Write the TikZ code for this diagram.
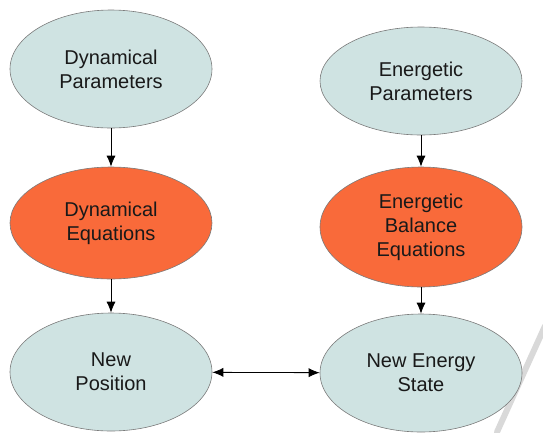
\documentclass[tikz,border=0pt]{standalone}
\usepackage{fontspec}
\setmainfont{Liberation Sans}
\usetikzlibrary{shapes.geometric,arrows.meta}
\definecolor{paleblue}{HTML}{CFE3E2}
\definecolor{orangefill}{HTML}{F96A3A}
\definecolor{edgegray}{HTML}{7A7A7A}
\tikzset{
  ell/.style={ellipse, draw=edgegray, line width=0.6pt, inner sep=0pt,
    minimum width=202pt, align=center,
    font=\fontsize{20}{24}\selectfont, text=black!90},
  paramnode/.style={ell, fill=paleblue},
  eqnode/.style={ell, fill=orangefill},
  tip/.tip={Latex[length=11pt,width=9pt]},
  conn/.style={line width=0.8pt, -tip},
}
\begin{document}
\begin{tikzpicture}[x=1pt,y=-1pt]
\useasboundingbox (0,0) rectangle (543,432);
\draw[line width=6pt, black!15, line cap=round] (545,326) -- (497,432);
\node[paramnode, minimum height=118pt] (dp) at (111,69) {Dynamical\\Parameters};
\node[paramnode, minimum height=108pt] (ep) at (421,81) {Energetic\\Parameters};
\node[eqnode, minimum height=112pt] (de) at (111,223) {Dynamical\\Equations};
\node[eqnode, minimum height=120pt] (ee) at (421,227) {Energetic\\Balance\\Equations};
\node[paramnode, minimum height=118pt] (np) at (111,372) {New\\Position};
\node[paramnode, minimum height=118pt] (ns) at (421,373) {New Energy\\State};
\draw[conn] (dp) -- (de);
\draw[conn] (ep) -- (ee);
\draw[conn] (de) -- (np);
\draw[conn] (ee) -- (ns);
\draw[conn, tip-tip] (np) -- (ns);
\end{tikzpicture}
\end{document}
